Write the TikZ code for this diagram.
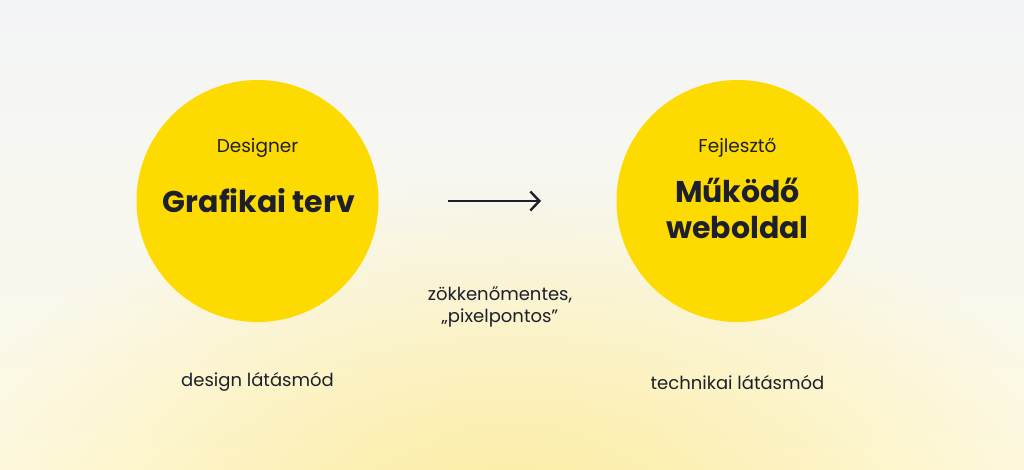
\documentclass[tikz,border=0pt]{standalone}
\usepackage{fontspec}
\setmainfont{Poppins}
\usetikzlibrary{positioning,arrows.meta,fadings}

\definecolor{ink}{HTML}{1D1F2C}
\definecolor{sun}{HTML}{FEDB00}
\definecolor{bgtop}{HTML}{F3F4F7}
\definecolor{bgbot}{HTML}{FEFBE6}
\definecolor{glow}{HTML}{FCEB9C}

\tikzfading[name=glowfade, inner color=transparent!0, outer color=transparent!100]

\tikzset{
  disc/.style={circle, fill=sun, minimum size=242pt, inner sep=0pt},
  role/.style={text=ink, font=\fontsize{18.5}{22}\selectfont},
  title/.style={text=ink, font=\fontsize{30}{36}\selectfont\bfseries, align=center},
  note/.style={text=ink, font=\fontsize{18}{22}\selectfont, align=center},
  flow/.style={ink, line width=2.4pt, -{Straight Barb[length=9pt,width=19pt]}}
}

\begin{document}
\begin{tikzpicture}[x=1pt, y=-1pt]

  % background
  \useasboundingbox (0,0) rectangle (1024,469);
  \shade[top color=bgtop, bottom color=bgbot] (0,0) rectangle (1024,469);
  \fill[glow, path fading=glowfade] (512,540) ellipse (600pt and 360pt);

  % circles
  \node[disc] (design)  at (257.5,201) {}; %
  \node[disc] (develop) at (737.5,201) {}; %

  % left circle
  \node[role]  (designer) at (257.5,148) {Designer}; %
  \node[title] (plan)     at (259,201)   {Grafikai terv}; %

  % right circle
  \node[role]  (dev)  at (737.5,148) {Fejlesztő}; %
  \node[title] (site) at (737.5,208) {Működő\\weboldal}; %

  % arrow
  \coordinate (arr-s) at (448,201); %
  \coordinate (arr-e) at (541,201); %
  \draw[flow] (arr-s) -- (arr-e);

  \node[note] (smooth) at (500,307) {zökkenőmentes,\\„pixelpontos”}; %

  % bottom labels
  \node[note] (dview) at (257.5,382) {design látásmód}; %
  \node[note] (tview) at (737.5,382) {technikai látásmód}; %

\end{tikzpicture}
\end{document}
